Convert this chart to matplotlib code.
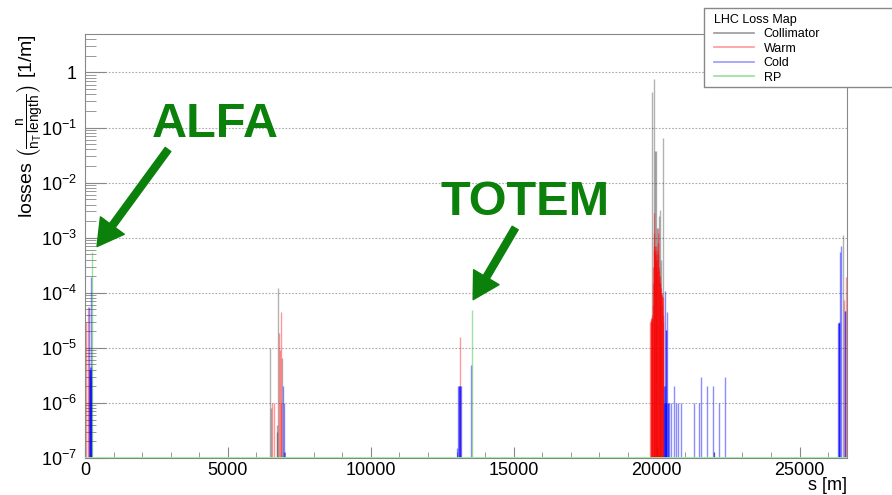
import math
import matplotlib
matplotlib.use("Agg")
import matplotlib.pyplot as plt
import matplotlib.ticker as mticker
from matplotlib.lines import Line2D
from matplotlib.patches import Rectangle

plt.rcParams['font.family'] = ['Liberation Sans', 'DejaVu Sans']
plt.rcParams['mathtext.fontset'] = 'custom'
plt.rcParams['mathtext.rm'] = 'Liberation Sans'
plt.rcParams['mathtext.it'] = 'Liberation Sans:italic'
plt.rcParams['mathtext.bf'] = 'Liberation Sans:bold'

# ---- data (s in m, losses in 1/m) ----
YMIN = 1e-7
YMAX = 5.0
S_MAX = 26659

coll_s = [6475, 6510, 6700, 6715, 6755, 6905,
          19834, 19890, 19940, 19985, 20020, 20065, 20100, 20160, 20205,
          26505]
coll_v = [1e-5, 8e-7, 4e-7, 3e-7, 1.2e-4, 6.5e-6,
          0.44, 0.75, 0.038, 0.038, 1.5e-3, 2.5e-3, 3.2e-3, 4e-4, 0.066,
          1.1e-3]

warm_s = [35, 117, 150,
          6545, 6615, 6800, 6820, 6850, 6870,
          13125,
          19780, 19790, 19800, 19810, 19820, 19830, 19840, 19850, 19860, 19870,
          19880, 19890, 19900, 19910, 19920, 19930, 19940, 19950, 19960, 19970,
          19980, 19990, 20000, 20010, 20020, 20030, 20040, 20050, 20060, 20070,
          20080, 20090, 20100, 20110, 20120, 20130, 20140, 20150, 20160, 20170,
          20180, 20190, 20200, 20210, 20220, 20230,
          26565, 26620]
warm_v = [3e-5, 5.6e-5, 4e-6,
          1e-6, 1e-6, 1.9e-5, 9e-6, 4.4e-5, 1e-6,
          1.6e-5,
          3e-5, 3.2e-5, 3.5e-5, 3e-5, 3.5e-5, 3.2e-5, 4e-5, 3.5e-5, 6e-5, 1.5e-4,
          3e-4, 6e-4, 7e-4, 2.8e-3, 1.2e-3, 7e-4, 6e-4, 5e-4, 7e-4, 4e-4,
          5e-4, 3e-4, 4e-4, 2.5e-4, 6e-4, 8e-4, 1.2e-3, 1.5e-3, 5e-4, 3e-4,
          2e-4, 2.5e-4, 1.5e-4, 2e-4, 1.2e-4, 1.5e-4, 1e-4, 1.2e-4, 9e-5, 1e-4,
          8.5e-5, 9e-5, 6e-5, 8.5e-5, 4e-5, 3e-5,
          7.4e-5, 1.9e-4]

cold_s = [150, 165, 175, 185, 198, 205, 215, 225,
          6940, 6950, 6965,
          13030, 13050, 13070, 13090, 13110, 13130, 13150, 13520,
          20240, 20260, 20276, 20290, 20300, 20310, 20320, 20330, 20340, 20360,
          20380, 20400, 20416, 20510, 20591, 20675, 20731, 20850, 21291, 21490,
          21560, 21760, 21970, 22005, 22190, 22400,
          26355, 26365, 26375, 26385, 26400, 26450, 26600, 26605]
cold_v = [5.6e-5, 4e-6, 4.4e-6, 4e-6, 1.9e-4, 4.4e-6, 4e-6, 3e-6,
          2e-6, 1e-6, 1.3e-7,
          1.5e-7, 2e-6, 2e-6, 2e-6, 2e-6, 2e-6, 2e-6, 4.9e-6,
          1e-6, 2e-6, 1.1e-4, 1e-6, 2e-6, 2.1e-5, 1e-6, 2.1e-5, 1e-6, 4.5e-5,
          1e-6, 1e-6, 1e-6, 1e-6, 2e-6, 1e-6, 1e-6, 1e-6, 1e-6, 1e-6,
          3e-6, 2e-6, 2e-6, 1.3e-7, 1e-6, 3e-6,
          2.8e-5, 2.8e-5, 3e-5, 2.8e-5, 5.6e-4, 7e-4, 4.6e-5, 4.6e-5]

rp_s = [257, 13545]
rp_v = [5.6e-4, 4.9e-5]

GREEN = '#0b800b'

fig = plt.figure(figsize=(8.92, 4.95), dpi=100)
ax = fig.add_axes([85/892, 37/495, 762/892, 424/495])

ax.vlines(coll_s, YMIN, coll_v, colors='black', lw=1.0, alpha=0.3, label='Collimator')
ax.vlines(warm_s, YMIN, warm_v, colors='red', lw=1.0, alpha=0.4, label='Warm')
ax.vlines(cold_s, YMIN, cold_v, colors='blue', lw=1.0, alpha=0.45, label='Cold')
ax.vlines(rp_s, YMIN, rp_v, colors='#33bb33', lw=1.0, alpha=0.45, label='RP')
ax.axhline(YMIN, color='#99ee99', lw=2.0, zorder=3)

ax.set_yscale('log')
ax.set_xlim(0, S_MAX)
ax.set_ylim(YMIN, YMAX)

ax.xaxis.set_major_locator(mticker.MultipleLocator(5000))
ax.xaxis.set_minor_locator(mticker.MultipleLocator(1000))
ax.yaxis.set_major_locator(mticker.LogLocator(base=10, numticks=20))
ax.yaxis.set_minor_locator(mticker.LogLocator(base=10, subs=range(2, 10), numticks=20))


def yfmt(v, pos):
    e = int(round(math.log10(v)))
    return '1' if e == 0 else r'$10^{%d}$' % e


ax.yaxis.set_major_formatter(mticker.FuncFormatter(yfmt))
ax.yaxis.set_minor_formatter(mticker.NullFormatter())

ax.tick_params(axis='both', which='both', direction='in', colors='#888888',
               labelcolor='black', labelsize=13)
ax.tick_params(axis='x', which='major', length=8, pad=3)
ax.tick_params(axis='x', which='minor', length=4.5)
ax.tick_params(axis='y', which='major', length=15, pad=6)
ax.tick_params(axis='y', which='minor', length=8)

ax.yaxis.grid(True, which='major', color='#aaaaaa', ls=(0, (1.5, 1.5)), lw=0.8)
for sp in ax.spines.values():
    sp.set_color('#888888')

ax.set_ylabel(r'losses $\left(\frac{\mathrm{n}}{\mathrm{n_{T}\,length}}\right)$ [1/m]',
              loc='top', fontsize=14)
ax.yaxis.set_label_coords(-0.051, 1.0)
ax.set_xlabel('s [m]', loc='right', fontsize=13)
ax.xaxis.set_label_coords(1.0, -0.045)

# annotations
arrow_style = 'simple,head_length=0.75,head_width=0.85,tail_width=0.2'
ax.annotate('', xy=(420, 6.9e-4), xytext=(2905, 0.04),
            arrowprops=dict(arrowstyle=arrow_style, color=GREEN,
                            mutation_scale=25, shrinkA=0, shrinkB=0))
ax.text(4550, 0.113, 'ALFA', color=GREEN, fontsize=35, fontweight='bold',
        ha='center', va='center')
ax.annotate('', xy=(13580, 7.5e-5), xytext=(15050, 1.5e-3),
            arrowprops=dict(arrowstyle=arrow_style, color=GREEN,
                            mutation_scale=25, shrinkA=0, shrinkB=0))
ax.text(15400, 4.3e-3, 'TOTEM', color=GREEN, fontsize=35, fontweight='bold',
        ha='center', va='center')

# legend box
fig.add_artist(Rectangle((704/892, 1 - 87/495), 200/892, 79/495,
                         transform=fig.transFigure, facecolor='white',
                         edgecolor='#888888', lw=1.0, zorder=4))
handles = [Line2D([], [], color='#999999', lw=1.2),
           Line2D([], [], color='#ff9999', lw=1.2),
           Line2D([], [], color='#9999ff', lw=1.2),
           Line2D([], [], color='#99dd99', lw=1.2)]
leg = fig.legend(handles, ['Collimator', 'Warm', 'Cold', 'RP'],
                 title='LHC Loss Map', loc='upper left',
                 bbox_to_anchor=(705/892, 1 - 5/495), frameon=False,
                 fontsize=9, title_fontsize=9, alignment='left',
                 handlelength=3.2, handletextpad=0.8, labelspacing=0.2,
                 borderpad=0.2)
leg.set_zorder(5)

fig.savefig('out.png', dpi=100)
